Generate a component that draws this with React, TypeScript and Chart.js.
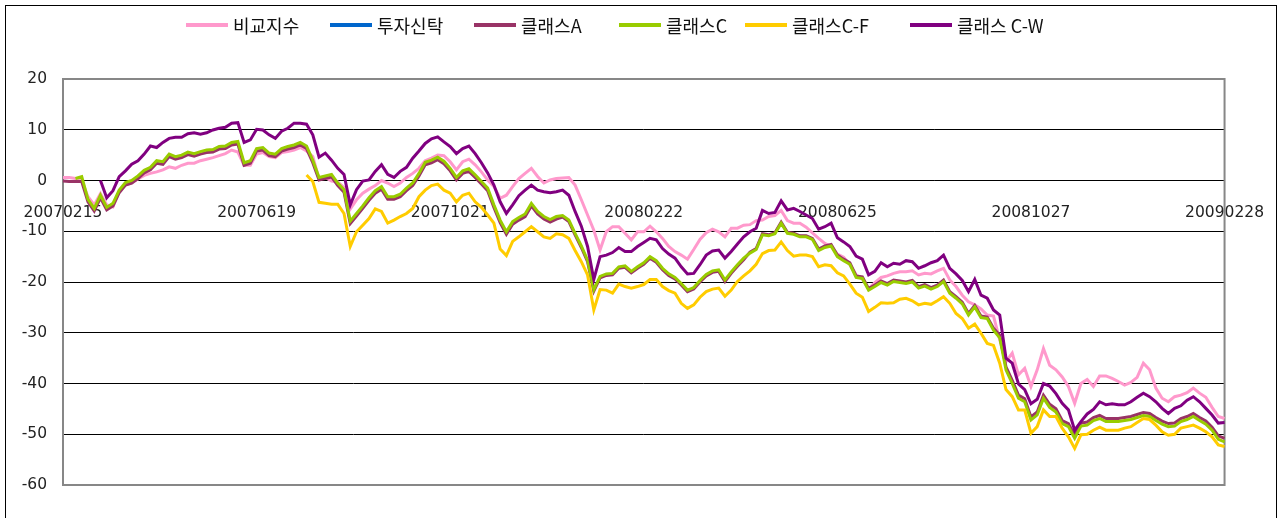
import React, { useEffect, useRef } from 'react';
import { Chart, registerables } from 'chart.js';

Chart.register(...registerables);

// ---- categories (one point every 4 calendar days, 20070215 .. 20090228) ----
const START_YEAR = 2007;
const START_MONTH = 1; // February (0-based)
const START_DAY = 15;
const STEP_DAYS = 4;
const POINT_COUNT = 187;

function buildCategories(): string[] {
  const out: string[] = [];
  const base = Date.UTC(START_YEAR, START_MONTH, START_DAY);
  for (let i = 0; i < POINT_COUNT; i++) {
    const d = new Date(base + i * STEP_DAYS * 86400000);
    const y = d.getUTCFullYear();
    const m = String(d.getUTCMonth() + 1).padStart(2, '0');
    const dd = String(d.getUTCDate()).padStart(2, '0');
    out.push(`${y}${m}${dd}`);
  }
  return out;
}
const categories = buildCategories();

const tickLabels = ['20070215', '20070619', '20071021', '20080222', '20080625', '20081027', '20090228'];

const seriesNames = ['비교지수', '투자신탁', '클래스A', '클래스C', '클래스C-F', '클래스 C-W'];
const seriesColors = ['#FF99CC', '#0066CC', '#993366', '#99CC00', '#FFCC00', '#800080'];

const yTicks = [20, 10, 0, -10, -20, -30, -40, -50, -60];

// ---- series values (%) ----
const benchmark: (number | null)[] = [
  0.6, 0.6, 0.4, -0.1, -3.2, -4.8, -2.6, -4.8, -5.2, -2.1,
  -0.9, -0.4, 0.3, 1.0, 1.4, 1.7, 2.1, 2.7, 2.4, 3.0,
  3.4, 3.4, 3.9, 4.2, 4.5, 4.9, 5.3, 6.0, 5.6, 3.0,
  3.0, 5.2, 5.5, 4.7, 4.5, 5.5, 5.7, 6.0, 6.5, 5.8,
  4.7, 0.3, 0.6, -0.1, -0.3, -1.4, -5.6, -3.8, -2.5, -1.7,
  -1.0, 0, -0.5, -1.2, -0.5, 0.6, 1.4, 2.4, 3.9, 4.4,
  5.0, 4.9, 3.7, 2.1, 3.7, 4.2, 3.1, 1.7, 0.1, -1.2,
  -3.5, -2.9, -1.2, 0.4, 1.4, 2.4, 0.8, -0.5, 0.1, 0.4,
  0.5, 0.6, -0.9, -3.8, -6.8, -9.8, -13.7, -10.1, -9.1, -9.1,
  -10.4, -11.7, -10.1, -10.1, -9.0, -10.1, -11.4, -13.0, -14.0, -14.7,
  -15.5, -13.6, -11.6, -10.3, -9.6, -10.1, -11.1, -9.4, -9.4, -8.8,
  -8.7, -7.9, -7.8, -7.1, -6.9, -5.9, -7.9, -8.4, -8.4, -9.2,
  -10.3, -11.4, -12.4, -13.0, -14.5, -15.1, -16.6, -18.6, -19.4, -21.4,
  -20.1, -19.1, -18.8, -18.3, -18.0, -18.0, -17.8, -18.6, -18.3, -18.4,
  -17.8, -17.3, -19.6, -20.9, -22.6, -23.9, -24.5, -25.3, -26.5, -26.7,
  -31.4, -35.7, -34.0, -38.3, -37.0, -40.6, -37.3, -33.1, -36.4, -37.3,
  -38.7, -40.6, -43.9, -40.0, -39.2, -40.6, -38.5, -38.5, -39.0, -39.6,
  -40.3, -39.8, -38.8, -36.0, -37.3, -40.9, -42.9, -43.6, -42.6, -42.3,
  -41.8, -40.9, -41.9, -42.7, -44.7, -46.5, -46.9,
];

const trust: (number | null)[] = [];

const classA: (number | null)[] = [
  -0.1, -0.2, -0.2, -0.2, -4.2, -6.0, -3.4, -5.8, -5.0, -2.4,
  -0.9, -0.5, 0.4, 1.5, 2.1, 3.4, 3.2, 4.7, 4.2, 4.5,
  5.1, 4.8, 5.2, 5.5, 5.6, 6.2, 6.3, 7.0, 7.2, 3.0,
  3.4, 5.8, 6.0, 4.9, 4.7, 5.8, 6.2, 6.5, 7.0, 6.3,
  3.5, 0.1, 0.4, 0.7, -1.0, -2.3, -8.5, -7.0, -5.5, -3.9,
  -2.5, -1.7, -3.7, -3.7, -3.2, -2.0, -1.0, 0.9, 3.1, 3.5,
  4.1, 3.3, 1.9, 0.1, 1.4, 1.8, 0.6, -0.7, -2.0, -5.3,
  -8.3, -10.6, -8.6, -7.8, -7.1, -5.0, -6.6, -7.6, -8.2, -7.6,
  -7.2, -8.1, -10.7, -13.2, -16.0, -21.8, -19.2, -18.7, -18.6, -17.3,
  -17.1, -18.2, -17.3, -16.5, -15.3, -16.1, -17.6, -18.7, -19.4, -20.6,
  -21.9, -21.4, -20.0, -18.8, -18.1, -17.9, -19.9, -18.3, -16.9, -15.6,
  -14.1, -13.4, -10.5, -10.7, -10.3, -8.2, -10.2, -10.4, -10.9, -10.9,
  -11.4, -13.5, -12.9, -12.6, -14.7, -15.5, -16.2, -18.8, -19.0, -21.3,
  -20.6, -19.8, -20.3, -19.6, -19.8, -20.0, -19.7, -20.9, -20.5, -21.1,
  -20.6, -19.6, -21.9, -22.9, -24.0, -26.2, -24.6, -26.7, -26.9, -29.1,
  -30.5, -36.7, -39.4, -42.3, -43.0, -46.6, -45.6, -42.3, -44.1, -45.0,
  -47.3, -47.9, -50.2, -47.8, -47.6, -46.7, -46.3, -46.9, -46.9, -46.9,
  -46.7, -46.5, -46.1, -45.7, -45.9, -46.7, -47.4, -47.9, -47.8, -46.9,
  -46.5, -45.9, -46.7, -47.4, -48.6, -50.3, -50.8,
];

const classC: (number | null)[] = [
  null, null, 0.4, 0.75, -3.7, -5.5, -2.9, -5.3, -4.5, -1.9,
  -0.4, 0, 0.9, 2.0, 2.6, 3.9, 3.7, 5.2, 4.7, 5.0,
  5.6, 5.3, 5.7, 6.0, 6.1, 6.7, 6.8, 7.5, 7.7, 3.5,
  3.9, 6.3, 6.5, 5.4, 5.2, 6.3, 6.7, 7.0, 7.5, 6.8,
  4.0, 0.6, 0.9, 1.2, -0.5, -1.8, -8.0, -6.5, -5.0, -3.4,
  -2.0, -1.2, -3.2, -3.2, -2.7, -1.5, -0.5, 1.4, 3.6, 4.0,
  4.6, 3.8, 2.4, 0.6, 1.9, 2.3, 1.1, -0.2, -1.5, -4.8,
  -7.8, -10.1, -8.1, -7.3, -6.6, -4.5, -6.1, -7.1, -7.7, -7.1,
  -6.9, -7.8, -10.4, -12.9, -15.7, -21.5, -18.9, -18.4, -18.3, -17.0,
  -16.8, -17.9, -17.0, -16.2, -15.0, -15.8, -17.3, -18.4, -19.1, -20.3,
  -21.6, -21.1, -19.7, -18.5, -17.8, -17.6, -19.6, -18.0, -16.6, -15.3,
  -14.3, -13.6, -10.7, -10.9, -10.5, -8.4, -10.4, -10.6, -11.1, -11.1,
  -11.6, -13.8, -13.2, -12.9, -15.0, -15.8, -16.5, -19.1, -19.3, -21.6,
  -20.9, -20.1, -20.6, -19.9, -20.1, -20.3, -20.0, -21.2, -20.8, -21.4,
  -20.9, -19.9, -22.2, -23.2, -24.3, -26.5, -24.9, -27.0, -27.2, -29.5,
  -31.0, -37.3, -40.0, -42.9, -43.6, -47.2, -46.2, -42.9, -44.7, -45.6,
  -47.9, -48.5, -50.8, -48.4, -48.2, -47.3, -46.9, -47.5, -47.5, -47.5,
  -47.3, -47.1, -46.7, -46.3, -46.5, -47.3, -48.0, -48.5, -48.4, -47.5,
  -47.1, -46.5, -47.3, -48.0, -49.2, -51.0, -51.5,
];

const classCF: (number | null)[] = [
  null, null, null, null, null, null, null, null, null, null,
  null, null, null, null, null, null, null, null, null, null,
  null, null, null, null, null, null, null, null, null, null,
  null, null, null, null, null, null, null, null, null, 1.1,
  -0.2, -4.3, -4.5, -4.7, -4.7, -6.5, -13.0, -10.1, -8.8, -7.5,
  -5.6, -6.1, -8.4, -7.8, -7.1, -6.5, -5.5, -3.2, -1.9, -1.0,
  -0.7, -1.9, -2.5, -4.2, -2.9, -2.5, -4.2, -5.3, -6.8, -8.4,
  -13.5, -14.8, -12.0, -11.1, -10.1, -9.1, -10.1, -11.1, -11.4, -10.5,
  -10.7, -11.4, -13.8, -16.0, -18.6, -25.5, -21.5, -21.6, -22.2, -20.4,
  -20.9, -21.2, -20.9, -20.5, -19.5, -19.5, -20.9, -21.7, -22.2, -24.2,
  -25.2, -24.5, -23.0, -21.9, -21.4, -21.2, -22.8, -21.6, -19.9, -18.8,
  -17.8, -16.5, -14.4, -13.8, -13.7, -12.1, -13.8, -14.9, -14.7, -14.7,
  -15.0, -17.0, -16.6, -16.8, -18.2, -18.8, -20.4, -22.2, -23.0, -25.8,
  -25.0, -24.1, -24.2, -24.1, -23.4, -23.2, -23.7, -24.5, -24.2, -24.4,
  -23.7, -22.9, -24.2, -26.2, -27.2, -29.1, -28.3, -30.1, -32.1, -32.5,
  -36.0, -41.2, -42.6, -45.2, -45.2, -49.8, -48.5, -45.2, -46.5, -46.5,
  -48.8, -50.5, -52.8, -50.1, -50.0, -49.2, -48.6, -49.2, -49.2, -49.2,
  -48.8, -48.5, -47.7, -46.9, -47.1, -48.2, -49.5, -50.2, -50.0, -48.8,
  -48.5, -48.2, -48.8, -49.5, -50.5, -52.1, -52.4,
];

const classCW: (number | null)[] = [
  null, null, null, null, null, null, 0.0, -3.4, -2.0, 0.75,
  1.9, 3.2, 3.9, 5.2, 6.8, 6.5, 7.5, 8.3, 8.5, 8.5,
  9.2, 9.4, 9.1, 9.4, 9.95, 10.3, 10.5, 11.3, 11.4, 7.5,
  8.0, 10.1, 9.95, 9.0, 8.3, 9.7, 10.3, 11.3, 11.3, 11.1,
  9.0, 4.6, 5.4, 4.0, 2.4, 1.2, -4.8, -1.8, -0.1, 0.1,
  1.8, 3.1, 1.2, 0.6, 1.8, 2.6, 4.4, 5.8, 7.3, 8.2,
  8.6, 7.6, 6.7, 5.3, 6.3, 6.8, 5.3, 3.5, 1.5, -0.9,
  -4.2, -6.5, -4.8, -3.0, -1.9, -0.9, -1.9, -2.2, -2.4, -2.2,
  -1.9, -2.9, -6.1, -9.0, -13.0, -19.5, -15.0, -14.7, -14.2, -13.2,
  -14.0, -14.0, -13.0, -12.2, -11.4, -11.7, -13.4, -14.5, -15.3, -17.0,
  -18.4, -18.3, -16.6, -14.7, -13.9, -13.7, -15.3, -14.0, -12.5, -11.1,
  -10.1, -9.4, -5.9, -6.5, -6.3, -4.0, -5.8, -5.5, -6.1, -6.8,
  -7.5, -9.6, -9.1, -8.4, -11.3, -12.1, -13.0, -14.9, -15.5, -18.6,
  -17.9, -16.2, -17.0, -16.3, -16.5, -15.8, -16.0, -17.3, -16.8, -16.2,
  -15.8, -14.7, -17.3, -18.4, -19.7, -21.9, -19.5, -22.6, -23.2, -25.5,
  -26.5, -35.0, -36.0, -40.1, -41.2, -44.0, -43.1, -40.0, -40.5, -42.0,
  -43.9, -45.2, -49.2, -47.5, -46.0, -45.1, -43.6, -44.2, -44.0, -44.2,
  -44.2, -43.6, -42.7, -41.9, -42.6, -43.6, -44.9, -45.9, -44.9, -44.4,
  -43.3, -42.6, -43.6, -44.9, -46.2, -47.8, -47.7,
];

const seriesValues = [benchmark, trust, classA, classC, classCF, classCW];

// legend item left edges (layout)
const legendLefts = [186, 330, 474, 619, 745, 910];

const plotBorder = {
  id: 'plotBorder',
  beforeDatasetsDraw(chart: any) {
    const { ctx, chartArea } = chart;
    const { left, top, right, bottom } = chartArea;
    ctx.save();
    ctx.strokeStyle = '#878787';
    ctx.lineWidth = 2;
    ctx.strokeRect(left, top, right - left, bottom - top);
    ctx.restore();
  },
};

export default function App() {
  const canvasRef = useRef<HTMLCanvasElement | null>(null);

  useEffect(() => {
    const canvas = canvasRef.current;
    if (!canvas) return;
    const n = seriesNames.length;
    const chart = new Chart(canvas, {
      type: 'line',
      data: {
        labels: categories,
        datasets: seriesNames.map((name, i) => ({
          label: name,
          data: seriesValues[i],
          borderColor: seriesColors[i],
          backgroundColor: seriesColors[i],
          borderWidth: 3,
          pointRadius: 0,
          pointHoverRadius: 0,
          tension: 0,
          fill: false,
          spanGaps: false,
          order: n - i,
        })),
      },
      options: {
        responsive: false,
        animation: false,
        devicePixelRatio: 1,
        events: [],
        layout: { padding: { left: 8, right: 49, top: 79, bottom: 33 } },
        plugins: {
          legend: { display: false },
          tooltip: { enabled: false },
          title: { display: false },
        },
        scales: {
          x: {
            type: 'category',
            position: { y: 0 } as any,
            offset: false,
            grid: { display: false, drawTicks: false },
            border: { display: false },
            ticks: {
              autoSkip: false,
              maxRotation: 0,
              minRotation: 0,
              padding: 23,
              color: '#222',
              font: { family: 'DejaVu Sans', size: 15.5 },
              callback: (_v: any, index: number) =>
                tickLabels.includes(categories[index]) ? categories[index] : '',
            },
          },
          y: {
            min: yTicks[yTicks.length - 1],
            max: yTicks[0],
            afterFit: (scale: any) => {
              scale.width = 55;
            },
            afterBuildTicks: (scale: any) => {
              scale.ticks = yTicks.map((v) => ({ value: v }));
            },
            grid: { color: '#000', lineWidth: 1, drawTicks: false },
            border: { display: false },
            ticks: {
              padding: 16,
              color: '#222',
              font: { family: 'DejaVu Sans', size: 15.5 },
            },
          },
        },
      },
      plugins: [plotBorder],
    });
    return () => chart.destroy();
  }, []);

  return (
    <div style={{ position: 'absolute', left: 0, top: 0, width: 1287, height: 518, overflow: 'hidden', background: '#fff' }}>
      <div
        style={{
          position: 'absolute',
          left: 5,
          top: 5,
          width: 1272,
          height: 513,
          boxSizing: 'border-box',
          borderLeft: '1px solid #000',
          borderTop: '1px solid #000',
          borderRight: '1px solid #000',
        }}
      />
      <canvas ref={canvasRef} width={1287} height={518} style={{ position: 'absolute', left: 0, top: 0 }} />
      {seriesNames.map((name, i) => (
        <div
          key={name}
          style={{
            position: 'absolute',
            left: legendLefts[i],
            top: 14,
            height: 22,
            display: 'flex',
            alignItems: 'center',
            whiteSpace: 'nowrap',
          }}
        >
          <span style={{ display: 'inline-block', width: 42, height: 4, background: seriesColors[i] }} />
          <span
            style={{
              marginLeft: 5,
              fontFamily: '"Noto Sans CJK KR", "DejaVu Sans", sans-serif',
              fontSize: 18,
              color: '#111',
              lineHeight: '22px',
            }}
          >
            {name}
          </span>
        </div>
      ))}
    </div>
  );
}
